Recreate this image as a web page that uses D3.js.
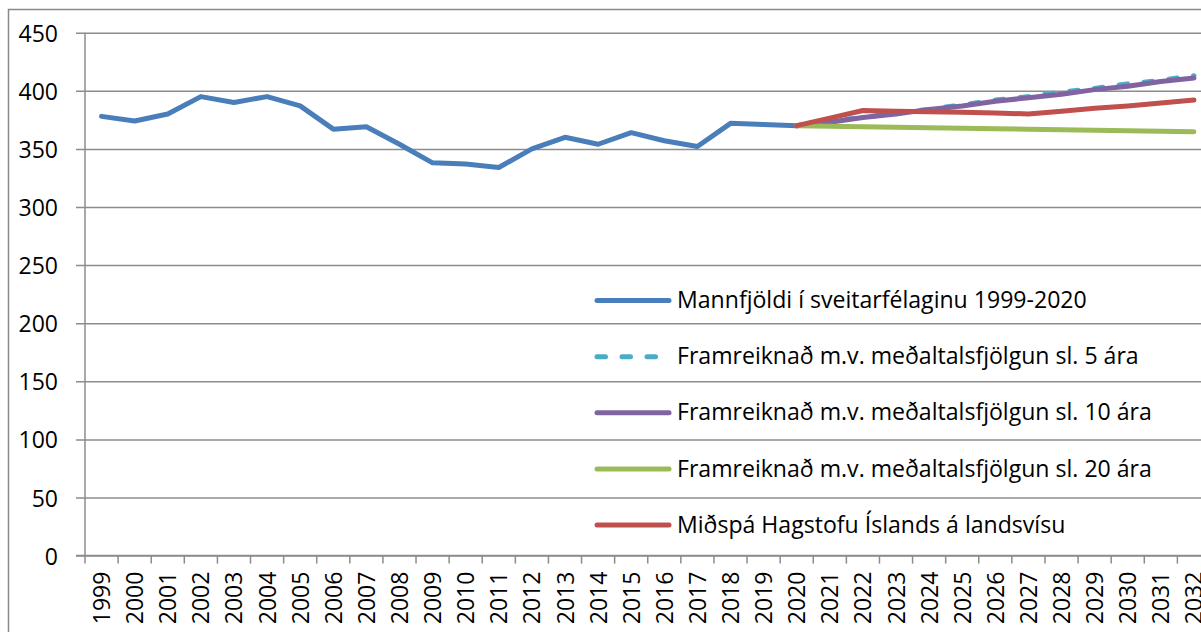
<!DOCTYPE html>
<html>
<head>
<meta charset="utf-8">
<script src="https://cdn.jsdelivr.net/npm/d3@7"></script>
<style>
	body { margin: 0; background: #fff; }
	svg { display: block; }
</style>
</head>
<body>
<div id="chart"></div>
<script>
var WIDTH = 1201, HEIGHT = 632;

// categories
var years = d3.range(1999, 2033).map(String);
var yTicks = [0, 50, 100, 150, 200, 250, 300, 350, 400, 450];

// series values
var histYears = years.slice(0, 22);   // 1999-2020
var histValues = [378, 374, 380, 395, 390, 395, 387, 367, 369, 354, 338, 337, 334, 350, 360, 354, 364, 357, 352, 372, 371, 370];

var projYears = years.slice(21);      // 2020-2032
var proj5 = [370, 374, 377, 381, 384, 388, 392, 395, 399, 402, 406, 409, 413];
var proj10 = [370, 373, 377, 380, 384, 387, 391, 394, 397, 401, 404, 408, 411];
var proj20 = [370, 369.5, 369, 368.6, 368.2, 367.8, 367.4, 367, 366.5, 366, 365.6, 365.2, 364.7];
var hagstofa = [370, 376.5, 383, 382.5, 382, 381.5, 381, 380, 382.5, 385, 387, 389.5, 392];

var seriesNames = [
	"Mannfjöldi í sveitarfélaginu 1999-2020",
	"Framreiknað m.v. meðaltalsfjölgun sl. 5 ára",
	"Framreiknað m.v. meðaltalsfjölgun sl. 10 ára",
	"Framreiknað m.v. meðaltalsfjölgun sl. 20 ára",
	"Miðspá Hagstofu Íslands á landsvísu"
];
var seriesColors = ["#4A7EBB", "#4BACC6", "#8064A2", "#9BBB59", "#C0504D"];

var series = [
	{ name: seriesNames[0], x: histYears, y: histValues, color: seriesColors[0], dash: null },
	{ name: seriesNames[1], x: projYears, y: proj5, color: seriesColors[1], dash: "8.5,16.5" },
	{ name: seriesNames[2], x: projYears, y: proj10, color: seriesColors[2], dash: null },
	{ name: seriesNames[3], x: projYears, y: proj20, color: seriesColors[3], dash: null },
	{ name: seriesNames[4], x: projYears, y: hagstofa, color: seriesColors[4], dash: null }
];

var plot = { left: 85, top: 32.7, right: 1210.5, bottom: 555.6 };
var gridColor = "#8c8c8c";
var FONT = "'Open Sans', sans-serif";

var svg = d3.select("#chart")
	.append("svg")
	.attr("width", WIDTH)
	.attr("height", HEIGHT);

svg.append("rect")
	.attr("width", WIDTH)
	.attr("height", HEIGHT)
	.attr("fill", "#fff");

/* outer chart border */
svg.append("rect")
	.attr("x", 8.5)
	.attr("y", 9.5)
	.attr("width", 1260)
	.attr("height", 700)
	.attr("fill", "none")
	.attr("stroke", "#898989")
	.attr("stroke-width", 1.5);

var x = d3.scaleBand()
	.domain(years)
	.range([plot.left, plot.right]);

var y = d3.scaleLinear()
	.domain([0, 450])
	.range([plot.bottom, plot.top]);

/* gridlines + y axis */
var yAxis = d3.axisLeft(y)
	.tickValues(yTicks)
	.tickSize(-(plot.right - plot.left))
	.tickPadding(27);

var yg = svg.append("g")
	.attr("transform", "translate(" + plot.left + ",0)")
	.call(yAxis);
yg.select(".domain").remove();
yg.selectAll(".tick line")
	.attr("x1", -9)
	.attr("stroke", gridColor)
	.attr("stroke-width", 1.5);
yg.selectAll(".tick text")
	.attr("fill", "#000")
	.attr("x", -27)
	.attr("dy", "0.37em")
	.style("font-family", FONT)
	.style("font-size", "23px");

svg.append("line")
	.attr("x1", plot.left).attr("x2", plot.left)
	.attr("y1", plot.top).attr("y2", plot.bottom)
	.attr("stroke", gridColor)
	.attr("stroke-width", 1.5);

/* x axis: ticks between categories */
var xg = svg.append("g")
	.attr("transform", "translate(0," + plot.bottom + ")");

xg.append("line")
	.attr("x1", plot.left - 9).attr("x2", plot.right)
	.attr("stroke", gridColor)
	.attr("stroke-width", 1.5);

xg.selectAll("line.tick")
	.data(years.concat(["end"]))
	.enter().append("line")
	.attr("class", "tick")
	.attr("x1", function(d, i) { return plot.left + i * x.step(); })
	.attr("x2", function(d, i) { return plot.left + i * x.step(); })
	.attr("y1", 0)
	.attr("y2", 8)
	.attr("stroke", gridColor)
	.attr("stroke-width", 1.5);

xg.selectAll("text")
	.data(years)
	.enter().append("text")
	.attr("transform", function(d) {
		return "translate(" + (x(d) + x.bandwidth() / 2) + ",16)rotate(-90)";
	})
	.attr("text-anchor", "end")
	.attr("dy", "0.37em")
	.attr("fill", "#000")
	.style("font-family", FONT)
	.style("font-size", "23px")
	.text(function(d) { return d; });

/* lines */
var line = d3.line()
	.x(function(d) { return x(d[0]) + x.bandwidth() / 2; })
	.y(function(d) { return y(d[1]); });

svg.append("g")
	.selectAll("path")
	.data(series)
	.enter().append("path")
	.attr("d", function(s) { return line(d3.zip(s.x, s.y)); })
	.attr("fill", "none")
	.attr("stroke", function(s) { return s.color; })
	.attr("stroke-width", 5)
	.attr("stroke-linejoin", "round")
	.attr("stroke-linecap", "round")
	.attr("stroke-dasharray", function(s) { return s.dash; });

/* legend */
var legend = svg.append("g")
	.selectAll("g")
	.data(series)
	.enter().append("g")
	.attr("transform", function(d, i) { return "translate(597," + (300.6 + i * 56.1) + ")"; });

legend.append("line")
	.attr("x1", 0).attr("x2", 72)
	.attr("stroke", function(d) { return d.color; })
	.attr("stroke-width", 5)
	.attr("stroke-linecap", "round")
	.attr("stroke-dasharray", function(d) { return d.dash; });

var legendText = legend.append("text")
	.attr("x", 80)
	.attr("y", 7.6)
	.attr("fill", "#000")
	.style("font-family", FONT)
	.style("font-size", "20px")
	.text(function(d) { return d.name; });

// fit the font so the first entry spans ~410px like the original
var w0 = legendText.node().getComputedTextLength();
if (w0 > 0) legendText.style("font-size", (20 * 410 / w0).toFixed(2) + "px");
</script>
</body>
</html>
